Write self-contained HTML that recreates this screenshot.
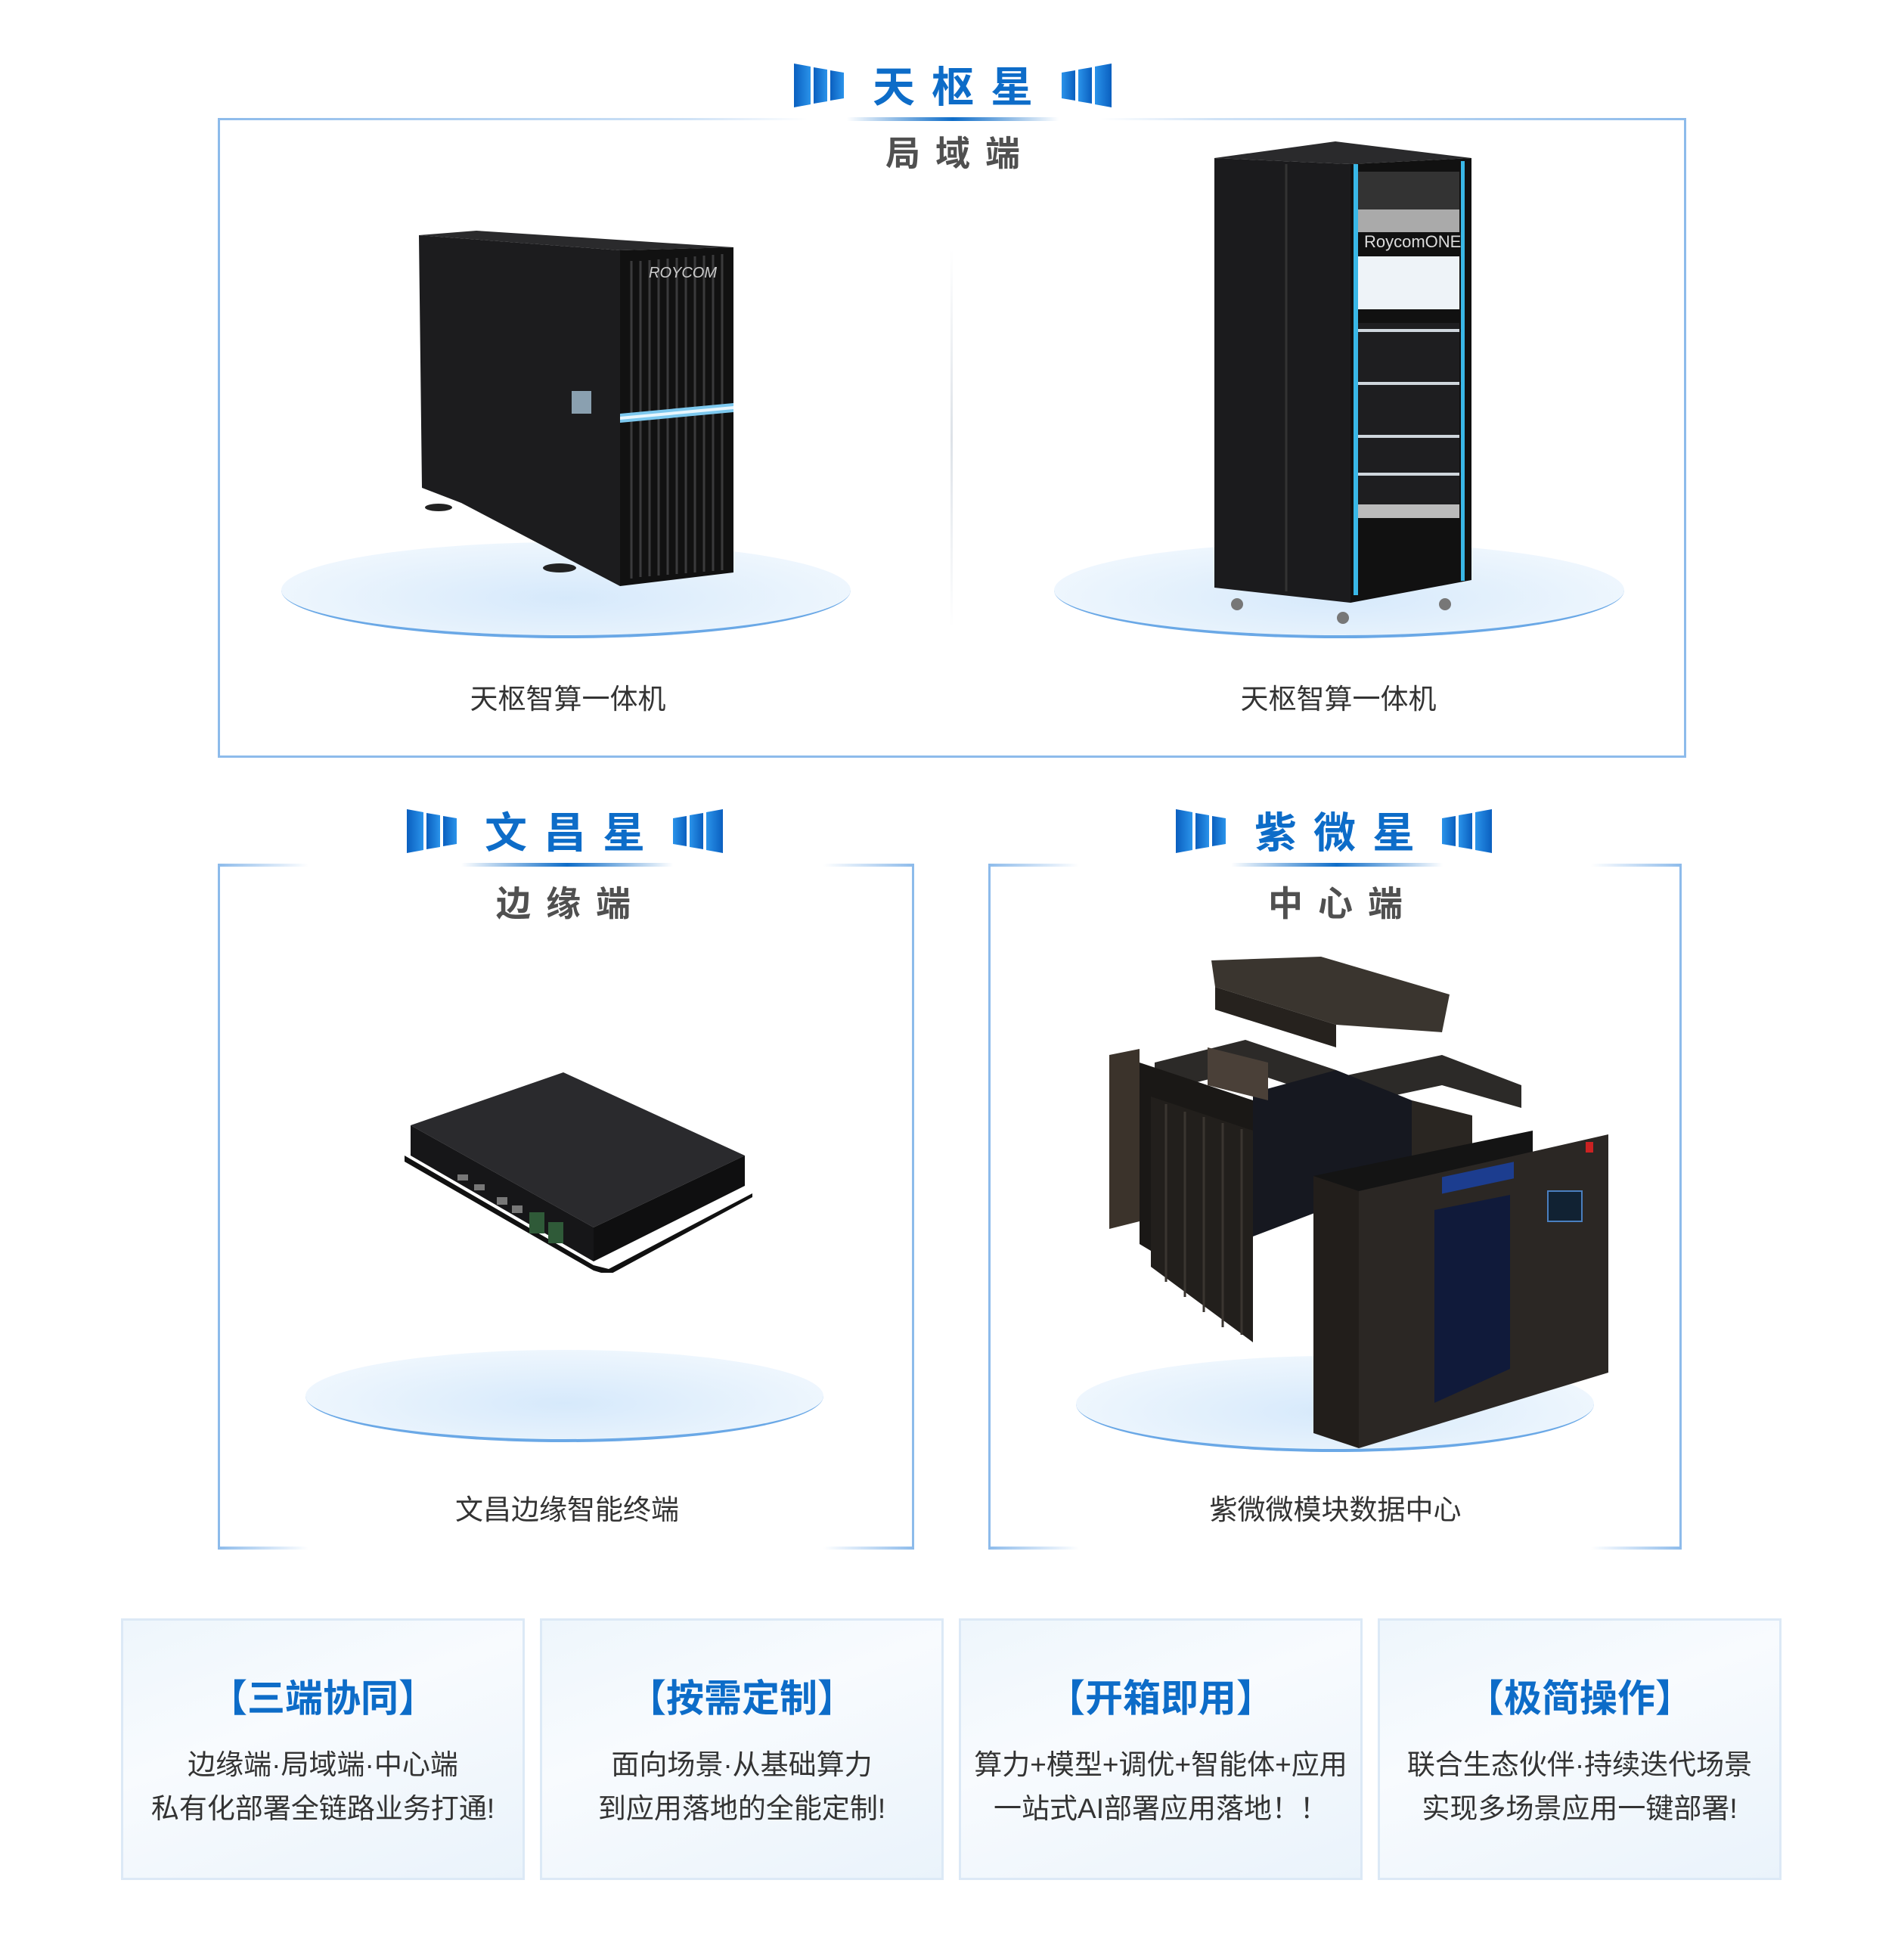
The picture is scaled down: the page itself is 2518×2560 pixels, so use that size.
<!DOCTYPE html>
<html><head><meta charset="utf-8">
<style>
*{margin:0;padding:0;box-sizing:border-box}
body{width:2518px;height:2560px;background:#fff;position:relative;overflow:hidden;font-family:"Liberation Sans","Noto Sans CJK SC",sans-serif}
.abs{position:absolute}
.title{position:absolute;font-weight:bold;color:#0d6cc8;font-size:56px;letter-spacing:22px;line-height:60px;white-space:nowrap;transform:translateX(-50%)}
.sub{position:absolute;font-weight:bold;color:#505050;font-size:46px;letter-spacing:20px;line-height:50px;white-space:nowrap;transform:translateX(-50%)}
.lbl{position:absolute;color:#333;font-size:37px;line-height:42px;white-space:nowrap;transform:translateX(-50%)}
.box{position:absolute;border-left:3px solid #8dbbeb;border-right:3px solid #8dbbeb}
.card{position:absolute;top:2140px;height:346px;width:534px;border:3px solid #dce9f6;background:linear-gradient(160deg,#eef6fc,#f8fbfe 40%,#eaf3fb);text-align:center}
.card h3{position:absolute;top:74px;left:0;right:0;font-size:50px;line-height:58px;color:#0d6cc8;font-weight:bold}
.card p{position:absolute;top:162px;left:0;right:0;font-size:37px;line-height:58px;color:#333}
.ul{position:absolute;height:5px;background:linear-gradient(90deg,rgba(13,108,200,0),#0d6cc8 50%,rgba(13,108,200,0))}
.ell{position:absolute;border-radius:50%;border-bottom:4px solid #6aa8e6;background:radial-gradient(ellipse at 50% 60%,#d6e9fb,#eaf4fd 60%,rgba(240,247,254,0.5));}
</style></head><body>

<svg width="0" height="0" style="position:absolute">
<defs>
<linearGradient id="bg" x1="0" x2="1"><stop offset="0" stop-color="#0a5fbf"/><stop offset="1" stop-color="#2a93ea"/></linearGradient>
<g id="barsL"><polygon points="0,0 22,4 22,54 0,58" fill="url(#bg)"/><polygon points="26,5 44,8 44,50 26,53" fill="url(#bg)"/><polygon points="48,9 66,12 66,46 48,49" fill="url(#bg)"/></g>
</defs></svg>

<svg class="abs" style="left:1050px;top:84px" width="70" height="60"><use href="#barsL"/></svg>
<svg class="abs" style="left:1402px;top:84px" width="70" height="60"><g transform="translate(68,0) scale(-1,1)"><use href="#barsL"/></g></svg>
<div class="title" style="left:1271px;top:86px">天枢星</div>
<div class="ul" style="left:1120px;top:155px;width:280px"></div>
<div class="sub" style="left:1270px;top:178px">局域端</div>

<div class="box" style="left:288px;top:156px;width:1942px;height:846px;border-bottom:3px solid #8dbbeb"></div>
<div class="abs" style="left:288px;top:156px;width:780px;height:3px;background:linear-gradient(90deg,#8dbbeb,#cfe2f6 80%,rgba(255,255,255,0))"></div>
<div class="abs" style="left:1455px;top:156px;width:775px;height:3px;background:linear-gradient(90deg,rgba(255,255,255,0),#cfe2f6 20%,#8dbbeb)"></div>
<div class="abs" style="left:1257px;top:330px;width:3px;height:500px;background:linear-gradient(180deg,rgba(220,225,230,0),#dde2e8 50%,rgba(220,225,230,0))"></div>

<div class="ell" style="left:372px;top:717px;width:753px;height:127px"></div>
<div class="ell" style="left:1394px;top:717px;width:754px;height:127px"></div>

<svg class="abs" style="left:550px;top:305px" width="430" height="480">
<polygon points="4,6 80,0 420,22 270,26" fill="#2a2a2c"/>
<polygon points="4,6 270,26 270,470 60,360 8,340" fill="#1c1c1e"/>
<polygon points="270,26 420,22 420,452 270,470" fill="#111"/>
<g stroke="#3a3a3c" stroke-width="3">
<line x1="285" y1="40" x2="285" y2="460"/><line x1="297" y1="40" x2="297" y2="458"/><line x1="309" y1="39" x2="309" y2="457"/><line x1="321" y1="38" x2="321" y2="456"/><line x1="333" y1="37" x2="333" y2="455"/><line x1="345" y1="36" x2="345" y2="454"/><line x1="357" y1="35" x2="357" y2="453"/><line x1="369" y1="34" x2="369" y2="452"/><line x1="381" y1="33" x2="381" y2="451"/><line x1="393" y1="32" x2="393" y2="450"/><line x1="405" y1="31" x2="405" y2="449"/>
</g>
<polygon points="270,242 420,228 420,240 270,254" fill="#7cc8ee"/>
<polygon points="270,246 420,232 420,236 270,250" fill="#e8f6fd"/>
<rect x="206" y="212" width="26" height="30" fill="#8aa0b0"/>
<text x="308" y="62" fill="#ccc" font-size="20" font-style="italic" font-family="Liberation Sans">ROYCOM</text>
<ellipse cx="30" cy="366" rx="18" ry="5" fill="#222"/><ellipse cx="190" cy="446" rx="22" ry="6" fill="#222"/>
</svg>

<svg class="abs" style="left:1606px;top:187px" width="340" height="650">
<polygon points="0,22 160,0 340,22 180,30" fill="#2a2a2c"/>
<polygon points="0,22 180,30 180,610 0,590" fill="#1b1b1d"/>
<line x1="95" y1="30" x2="95" y2="595" stroke="#333" stroke-width="3"/>
<polygon points="180,30 340,22 340,580 180,610" fill="#111"/>
<rect x="184" y="30" width="6" height="570" fill="#39b7e6"/>
<rect x="326" y="26" width="5" height="555" fill="#39b7e6"/>
<rect x="190" y="40" width="134" height="50" fill="#333"/>
<rect x="190" y="90" width="134" height="30" fill="#aaa"/>
<text x="198" y="140" fill="#ddd" font-size="22" font-family="Liberation Sans">RoycomONE</text>
<rect x="190" y="152" width="134" height="70" fill="#eef3f8"/>
<rect x="190" y="240" width="134" height="240" fill="#1e1e20"/>
<g stroke="#cfd6dc" stroke-width="4"><line x1="190" y1="250" x2="324" y2="250"/><line x1="190" y1="320" x2="324" y2="320"/><line x1="190" y1="390" x2="324" y2="390"/><line x1="190" y1="440" x2="324" y2="440"/></g>
<rect x="190" y="480" width="134" height="18" fill="#bbb"/>
<circle cx="30" cy="612" r="8" fill="#777"/><circle cx="170" cy="630" r="8" fill="#777"/><circle cx="305" cy="612" r="8" fill="#777"/>
</svg>

<div class="lbl" style="left:751px;top:904px">天枢智算一体机</div>
<div class="lbl" style="left:1770px;top:904px">天枢智算一体机</div>

<svg class="abs" style="left:538px;top:1070px" width="70" height="60"><use href="#barsL"/></svg>
<svg class="abs" style="left:888px;top:1070px" width="70" height="60"><g transform="translate(68,0) scale(-1,1)"><use href="#barsL"/></g></svg>
<div class="title" style="left:758px;top:1072px">文昌星</div>
<div class="ul" style="left:610px;top:1141px;width:280px"></div>
<div class="sub" style="left:755px;top:1170px">边缘端</div>
<div class="box" style="left:288px;top:1142px;width:921px;height:907px"></div>
<div class="abs" style="left:288px;top:1142px;width:120px;height:4px;background:linear-gradient(90deg,#8dbbeb,rgba(255,255,255,0))"></div>
<div class="abs" style="left:1089px;top:1142px;width:120px;height:4px;background:linear-gradient(90deg,rgba(255,255,255,0),#8dbbeb)"></div>
<div class="abs" style="left:288px;top:2045px;width:120px;height:4px;background:linear-gradient(90deg,#8dbbeb,rgba(255,255,255,0))"></div>
<div class="abs" style="left:1089px;top:2045px;width:120px;height:4px;background:linear-gradient(90deg,rgba(255,255,255,0),#8dbbeb)"></div>

<div class="ell" style="left:404px;top:1785px;width:685px;height:122px"></div>
<svg class="abs" style="left:535px;top:1418px" width="460" height="265">
<polygon points="8,70 210,0 450,110 250,205" fill="#2a2a2d"/>
<polygon points="8,70 250,205 250,250 8,110" fill="#161618"/>
<polygon points="250,205 450,110 450,150 250,250" fill="#0f0f10"/>
<polygon points="0,110 250,255 270,260 460,160 460,165 270,268 250,262 0,118" fill="#111"/>
<g fill="#777"><rect x="70" y="135" width="14" height="8"/><rect x="92" y="148" width="14" height="8"/><rect x="122" y="165" width="14" height="10"/><rect x="142" y="176" width="14" height="10"/></g>
<g fill="#2f5a38"><rect x="165" y="185" width="20" height="28"/><rect x="190" y="198" width="20" height="28"/></g>
</svg>
<div class="lbl" style="left:750px;top:1976px">文昌边缘智能终端</div>

<svg class="abs" style="left:1555px;top:1070px" width="70" height="60"><use href="#barsL"/></svg>
<svg class="abs" style="left:1905px;top:1070px" width="70" height="60"><g transform="translate(68,0) scale(-1,1)"><use href="#barsL"/></g></svg>
<div class="title" style="left:1776px;top:1072px">紫微星</div>
<div class="ul" style="left:1628px;top:1141px;width:280px"></div>
<div class="sub" style="left:1776px;top:1170px">中心端</div>
<div class="box" style="left:1307px;top:1142px;width:917px;height:907px"></div>
<div class="abs" style="left:1307px;top:1142px;width:120px;height:4px;background:linear-gradient(90deg,#8dbbeb,rgba(255,255,255,0))"></div>
<div class="abs" style="left:2104px;top:1142px;width:120px;height:4px;background:linear-gradient(90deg,rgba(255,255,255,0),#8dbbeb)"></div>
<div class="abs" style="left:1307px;top:2045px;width:120px;height:4px;background:linear-gradient(90deg,#8dbbeb,rgba(255,255,255,0))"></div>
<div class="abs" style="left:2104px;top:2045px;width:120px;height:4px;background:linear-gradient(90deg,rgba(255,255,255,0),#8dbbeb)"></div>

<div class="ell" style="left:1423px;top:1793px;width:685px;height:127px"></div>
<svg class="abs" style="left:1467px;top:1255px" width="670" height="670">
<polygon points="135,15 280,10 450,60 440,110 300,100 140,50" fill="#3a352f"/>
<polygon points="140,50 300,100 300,130 140,80" fill="#26221e"/>
<polygon points="60,150 180,120 300,160 300,200 180,160 60,190" fill="#2c2a28"/>
<polygon points="300,170 440,140 545,180 545,210 440,180 300,210" fill="#2c2a28"/>
<polygon points="0,140 40,132 40,360 0,370" fill="#3b332b"/>
<polygon points="40,150 190,200 190,480 40,390" fill="#1a1816"/>
<polygon points="55,195 190,240 190,520 55,420" fill="#221f1c"/>
<g stroke="#3a3530" stroke-width="3"><line x1="75" y1="205" x2="75" y2="440"/><line x1="100" y1="215" x2="100" y2="460"/><line x1="125" y1="222" x2="125" y2="480"/><line x1="150" y1="230" x2="150" y2="500"/><line x1="175" y1="238" x2="175" y2="510"/></g>
<polygon points="190,190 300,160 400,200 400,300 190,380" fill="#161820"/>
<polygon points="400,200 480,220 480,290 400,300" fill="#2a2622"/>
<polygon points="130,130 210,150 210,200 130,180" fill="#4a4038"/>
<polygon points="270,300 560,240 560,420 270,520" fill="#141414"/>
<polygon points="270,300 330,320 330,660 270,640" fill="#221e1b"/>
<polygon points="330,320 660,245 660,560 330,660" fill="#2b2724"/>
<polygon points="430,345 530,325 530,555 430,600" fill="#101a3a"/>
<rect x="440" y="300" width="95" height="22" fill="#1c3d8f" transform="skewY(-12) translate(0,95)"/>
<rect x="580" y="320" width="45" height="40" fill="#123" stroke="#4a7fbf" stroke-width="2"/>
<rect x="630" y="255" width="10" height="14" fill="#c22"/>
</svg>
<div class="lbl" style="left:1766px;top:1976px">紫微微模块数据中心</div>

<div class="card" style="left:160px"><h3>【三端协同】</h3><p>边缘端·局域端·中心端<br>私有化部署全链路业务打通!</p></div>
<div class="card" style="left:714px"><h3>【按需定制】</h3><p>面向场景·从基础算力<br>到应用落地的全能定制!</p></div>
<div class="card" style="left:1268px"><h3>【开箱即用】</h3><p>算力+模型+调优+智能体+应用<br>一站式AI部署应用落地！！</p></div>
<div class="card" style="left:1822px"><h3>【极简操作】</h3><p>联合生态伙伴·持续迭代场景<br>实现多场景应用一键部署!</p></div>

</body></html>
